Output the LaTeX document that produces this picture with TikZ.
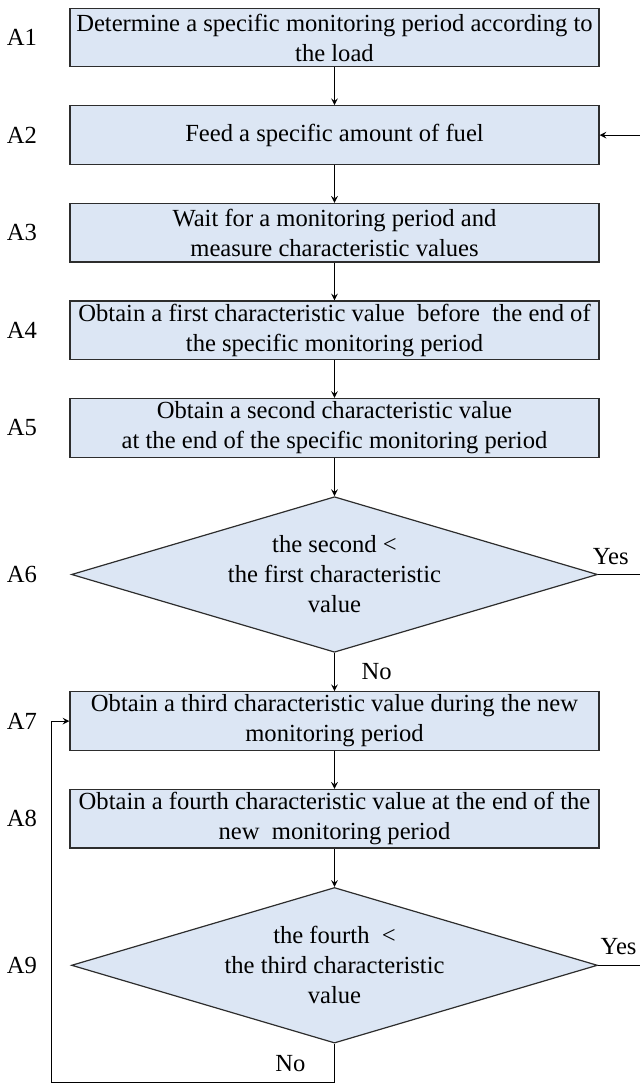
\documentclass[tikz,border=0pt]{standalone}
\usepackage{fontspec}
\setmainfont{Liberation Serif}
\usepackage{xcolor}
\usepackage{tikz}
\usetikzlibrary{positioning}
\usetikzlibrary{shapes.geometric}
\definecolor{boxfill}{RGB}{220,230,244}
\definecolor{boxline}{RGB}{45,45,45}

\tikzset{
  stepbox/.style={rectangle, draw=boxline, fill=boxfill, line width=0.6pt,
    minimum width=264.5pt, minimum height=29.3pt, inner sep=1pt, align=center},
  testbox/.style={diamond, draw=boxline, fill=boxfill, line width=0.6pt,
    minimum width=263pt, minimum height=77.8pt, aspect=3.4, inner sep=0pt, align=center},
  steplabel/.style={inner sep=0pt}
}

\begin{document}
\begin{tikzpicture}[-> , >= stealth, line width =0.5 pt, x=0.5pt, y=0.5pt,
    font=\fontsize{12.3}{15}\selectfont, node distance=48.8pt]
        \useasboundingbox (0,0) rectangle (640,1086);
        \coordinate (rim) at (640,0);
        \coordinate (lo) at (51,3);

        \node [stepbox] (a1) at (334.5,1048.5) {Determine a specific monitoring period according to\\the load};
        \node [stepbox, below of=a1] (a2) {Feed a specific amount of fuel};
        \node [stepbox, below of=a2] (a3) {Wait for a monitoring period and\\measure characteristic values};
        \node [stepbox, below of=a3] (a4) {Obtain a first characteristic value~ before~ the end of\\the specific monitoring period};
        \node [stepbox, below of=a4] (a5) {Obtain a second characteristic value\\at the end of the specific monitoring period};
        \node [testbox, below of=a5, node distance=73.3pt] (a6) {the second <\\the first characteristic\\value};
        \node [stepbox, below of=a6, node distance=73.3pt] (a7) {Obtain a third characteristic value during the new\\monitoring period};
        \node [stepbox, below of=a7] (a8) {Obtain a fourth characteristic value at the end of the\\new~ monitoring period};
        \node [testbox, below of=a8, node distance=73.3pt] (a9) {the fourth~ <\\the third characteristic\\value};

        \foreach \n in {1,...,9}
            \node [steplabel, left of=a\n, node distance=156.25pt] (l\n) {A\n};

        \coordinate (back) at (a2.east -| rim);
        \coordinate (yes6) at (a6.east -| rim);
        \coordinate (yes9) at (a9.east -| rim);

        \draw (a1) -- (a2);
        \draw (a2) -- (a3);
        \draw (a3) -- (a4);
        \draw (a4) -- (a5);
        \draw (a5) -- (a6);
        \draw (a6) -- node[right=10pt]{No} (a7);
        \draw (a7) -- (a8);
        \draw (a8) -- (a9);

        \draw (back) -- (a2);
        \draw[-] (a6.east) -- node[above=1.5pt, pos=0.3]{Yes} (yes6);
        \draw[-] (a9.east) -- node[above=1.5pt, pos=0.49]{Yes} (yes9);
        \draw (a9.south) |- node[pos=0.25, left=11pt]{No} (lo) |- (a7.west);
   \end{tikzpicture}
\end{document}
